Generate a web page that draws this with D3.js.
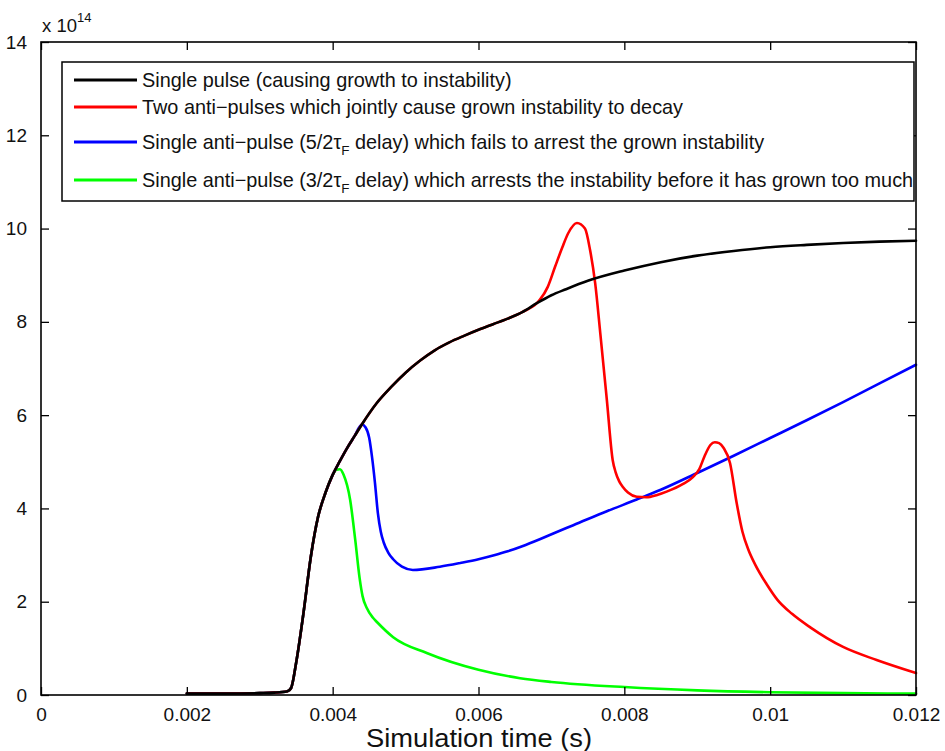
<!DOCTYPE html>
<html>
<head>
<meta charset="utf-8">
<script src="https://cdn.jsdelivr.net/npm/d3@7"></script>
<style>
  html, body { margin: 0; padding: 0; background: #fff; }
  svg { display: block; font-family: "Liberation Sans", Arial, Helvetica, sans-serif; }
</style>
</head>
<body>
<svg id="chart" width="945" height="751"></svg>
<script>
// Time in seconds, values in units of 1e14
const singlePulse = [
  [0.0020,0.03],[0.0025,0.03],[0.0030,0.04],[0.0032,0.05],[0.00338,0.08],[0.00343,0.15],
  [0.0035,0.70],[0.0036,1.76],[0.0037,2.96],[0.0038,3.82],[0.0039,4.33],[0.0040,4.72],
  [0.0041,5.02],[0.0042,5.30],[0.0043,5.55],[0.0044,5.80],[0.0046,6.25],[0.0048,6.60],
  [0.0050,6.91],[0.0052,7.17],[0.0054,7.39],[0.0056,7.56],[0.0058,7.70],[0.0060,7.83],
  [0.0062,7.95],[0.0064,8.07],[0.0066,8.21],[0.0068,8.40],[0.0070,8.57],[0.0072,8.70],
  [0.0075,8.88],[0.0080,9.10],[0.0085,9.28],[0.0090,9.42],[0.0095,9.52],[0.0100,9.60],
  [0.0105,9.65],[0.0110,9.69],[0.0115,9.72],[0.0120,9.74]
];

const twoAntiPulses = [
  [0.0020,0.03],[0.0025,0.03],[0.0030,0.04],[0.0032,0.05],[0.00338,0.08],[0.00343,0.15],
  [0.0035,0.70],[0.0036,1.76],[0.0037,2.96],[0.0038,3.82],[0.0039,4.33],[0.0040,4.72],
  [0.0041,5.02],[0.0042,5.30],[0.0043,5.55],[0.0044,5.80],[0.0046,6.25],[0.0048,6.60],
  [0.0050,6.91],[0.0052,7.17],[0.0054,7.39],[0.0056,7.56],[0.0058,7.70],[0.0060,7.83],
  [0.0062,7.95],[0.0064,8.07],[0.0066,8.21],[0.0068,8.40],[0.00684,8.47],[0.00695,8.75],
  [0.00705,9.18],[0.00715,9.60],[0.00723,9.90],[0.00735,10.12],[0.00746,10.00],[0.00753,9.54],
  [0.00760,8.83],[0.00767,7.76],[0.00776,6.33],[0.00784,5.04],[0.00788,4.78],[0.00793,4.58],
  [0.00798,4.46],[0.00805,4.34],[0.00817,4.25],[0.00830,4.24],[0.00845,4.29],[0.00858,4.36],
  [0.00880,4.52],[0.00894,4.67],[0.00903,4.85],[0.00910,5.12],[0.00918,5.36],[0.00924,5.42],
  [0.00930,5.40],[0.00936,5.30],[0.00945,4.97],[0.00954,4.12],[0.00962,3.50],[0.00970,3.12],
  [0.00980,2.78],[0.00995,2.38],[0.01010,2.04],[0.01030,1.74],[0.01055,1.45],[0.01100,1.03],
  [0.01146,0.75],[0.01200,0.47]
];

const antiPulseLate = [
  [0.0020,0.03],[0.0025,0.03],[0.0030,0.04],[0.0032,0.05],[0.00338,0.08],[0.00343,0.15],
  [0.0035,0.70],[0.0036,1.76],[0.0037,2.96],[0.0038,3.82],[0.0039,4.33],[0.0040,4.72],
  [0.0041,5.02],[0.0042,5.30],[0.0043,5.55],[0.0044,5.80],[0.00445,5.74],[0.00450,5.52],
  [0.00454,5.10],[0.00458,4.55],[0.00462,3.90],[0.00466,3.50],[0.00470,3.27],[0.00476,3.06],
  [0.00483,2.91],[0.00495,2.75],[0.00510,2.68],[0.00547,2.75],[0.00575,2.83],[0.00600,2.91],
  [0.00620,2.99],[0.00640,3.08],[0.00660,3.19],[0.00684,3.34],[0.00705,3.48],[0.00730,3.64],
  [0.00776,3.94],[0.00817,4.19],[0.00850,4.40],[0.00900,4.76],[0.00950,5.13],[0.01000,5.51],
  [0.01050,5.89],[0.01100,6.28],[0.01150,6.68],[0.01200,7.08]
];

const antiPulseEarly = [
  [0.0020,0.03],[0.0025,0.03],[0.0030,0.04],[0.0032,0.05],[0.00338,0.08],[0.00343,0.15],
  [0.0035,0.70],[0.0036,1.76],[0.0037,2.96],[0.0038,3.82],[0.0039,4.33],[0.0040,4.72],
  [0.00405,4.83],[0.00410,4.84],[0.00415,4.72],[0.00424,4.18],[0.00431,3.32],[0.00437,2.50],
  [0.00441,2.12],[0.00447,1.86],[0.00455,1.66],[0.00461,1.56],[0.00483,1.24],[0.00529,0.90],
  [0.00600,0.54],[0.00657,0.36],[0.00700,0.28],[0.00800,0.17],[0.00900,0.10],[0.01000,0.06],
  [0.01100,0.04],[0.01200,0.03]
];

const xTicks = [0, 0.002, 0.004, 0.006, 0.008, 0.01, 0.012];
const yTicks = [0, 2, 4, 6, 8, 10, 12, 14];

const seriesColors = ["#000000", "#ff0000", "#0000ff", "#00ff00"];
const seriesData = [singlePulse, twoAntiPulses, antiPulseLate, antiPulseEarly];

const svg = d3.select("#chart");
const plot = { left: 41, top: 42, right: 916, bottom: 695 };

const x = d3.scaleLinear().domain([0, 0.012]).range([plot.left, plot.right]);
const y = d3.scaleLinear().domain([0, 14]).range([plot.bottom, plot.top]);

const line = d3.line()
  .x(d => x(d[0]))
  .y(d => y(d[1]))
  .curve(d3.curveMonotoneX);

// Curves: green first, black last so it sits on top of the shared rise
const drawOrder = [3, 2, 1, 0];
svg.append("g").attr("class", "curves")
  .selectAll("path")
  .data(drawOrder)
  .join("path")
  .attr("d", i => line(seriesData[i]))
  .attr("fill", "none")
  .attr("stroke", i => seriesColors[i])
  .attr("stroke-width", 2.6)
  .attr("stroke-linejoin", "round")
  .attr("stroke-linecap", "round");

// Axes with inward ticks on all four sides
const tickLen = 8;
const fmtX = d => d === 0 ? "0" : String(+d.toFixed(3));

const axBottom = d3.axisBottom(x).tickValues(xTicks).tickSizeInner(-tickLen).tickSizeOuter(0).tickPadding(tickLen + 5).tickFormat(fmtX);
const axTop = d3.axisTop(x).tickValues(xTicks).tickSizeInner(-tickLen).tickSizeOuter(0).tickFormat("");
const axLeft = d3.axisLeft(y).tickValues(yTicks).tickSizeInner(-tickLen).tickSizeOuter(0).tickPadding(tickLen + 6).tickFormat(d3.format("d"));
const axRight = d3.axisRight(y).tickValues(yTicks).tickSizeInner(-tickLen).tickSizeOuter(0).tickFormat("");

function styleAxis(g) {
  g.select(".domain").remove();
  g.selectAll(".tick line").attr("stroke", "#000").attr("stroke-width", 1.3);
  g.selectAll(".tick text").attr("fill", "#111").style("font-size", "19px")
    .style("font-family", "'Liberation Sans', Arial, sans-serif");
}

svg.append("g").attr("transform", `translate(0,${plot.bottom})`).call(axBottom).call(styleAxis);
svg.append("g").attr("transform", `translate(0,${plot.top})`).call(axTop).call(styleAxis);
svg.append("g").attr("transform", `translate(${plot.left},0)`).call(axLeft).call(styleAxis);
svg.append("g").attr("transform", `translate(${plot.right},0)`).call(axRight).call(styleAxis);

// Frame
svg.append("rect")
  .attr("x", plot.left).attr("y", plot.top)
  .attr("width", plot.right - plot.left).attr("height", plot.bottom - plot.top)
  .attr("fill", "none").attr("stroke", "#000").attr("stroke-width", 1.6);

// Exponent label
const expo = svg.append("text").attr("x", 42).attr("y", 32).attr("fill", "#111").style("font-size", "18.5px");
expo.append("tspan").text("x 10");
expo.append("tspan").attr("dy", -10).style("font-size", "13px").text("14");

// X axis title
svg.append("text")
  .attr("x", (plot.left + plot.right) / 2 + 0.5).attr("y", 747)
  .attr("text-anchor", "middle").attr("fill", "#111")
  .style("font-size", "25px")
  .attr("textLength", 226).attr("lengthAdjust", "spacingAndGlyphs")
  .text("Simulation time (s)");

// Legend
const legendRows = [
  { idx: 0, parts: [["Single pulse (causing growth to instability)", false]] },
  { idx: 1, parts: [["Two anti\u2212pulses which jointly cause grown instability to decay", false]] },
  { idx: 2, parts: [["Single anti\u2212pulse (5/2\u03c4", false], ["F", true], [" delay) which fails to arrest the grown instability", false]] },
  { idx: 3, parts: [["Single anti\u2212pulse (3/2\u03c4", false], ["F", true], [" delay) which arrests the instability before it has grown too much", false]] }
];
const legendY = [80, 107, 142, 180];

const lg = svg.append("g").attr("class", "legend");
lg.append("rect").attr("x", 62).attr("y", 62).attr("width", 852).attr("height", 139)
  .attr("fill", "#fff").attr("stroke", "#000").attr("stroke-width", 1.5);

legendRows.forEach((row, k) => {
  const yy = legendY[k];
  lg.append("line").attr("x1", 74).attr("x2", 137).attr("y1", yy).attr("y2", yy)
    .attr("stroke", seriesColors[row.idx]).attr("stroke-width", 3);
  const t = lg.append("text").attr("x", 142).attr("y", yy + 7).attr("fill", "#111").style("font-size", "19.85px");
  row.parts.forEach(([s, sub]) => {
    if (sub) {
      t.append("tspan").attr("dy", 6).style("font-size", "13.5px").text(s);
    } else {
      const ts = t.append("tspan").text(s);
      if (s.startsWith(" delay")) ts.attr("dy", -6);
    }
  });
});
</script>
</body>
</html>
